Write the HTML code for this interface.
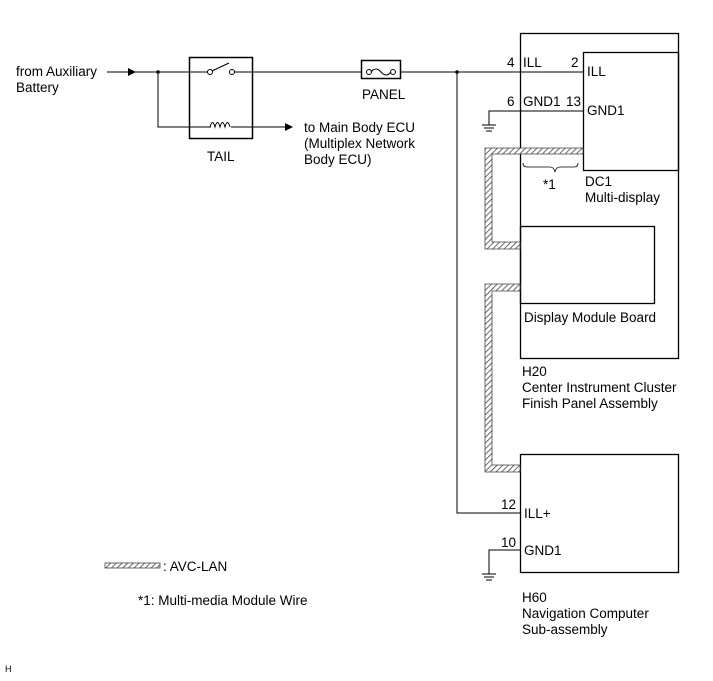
<!DOCTYPE html>
<html><head><meta charset="utf-8"><style>
body{margin:0;background:#fff}
svg{display:block}
text{font-family:"Liberation Sans",sans-serif;font-size:13.5px;fill:#000}
</style></head><body>
<svg width="713" height="681" viewBox="0 0 713 681">
<defs>
<pattern id="h" width="4" height="4" patternUnits="userSpaceOnUse" patternTransform="rotate(45)">
<rect width="4" height="4" fill="#fff"/><line x1="0" y1="0" x2="0" y2="4" stroke="#444" stroke-width="1.6"/>
</pattern>
</defs>
<g fill="none" stroke="#000" stroke-width="1">
<line x1="107" y1="72" x2="208" y2="72"/>
<line x1="234" y1="72" x2="361" y2="72"/>
<line x1="400" y1="72" x2="583" y2="72"/>
<polyline points="158,72 158,127 211,127"/>
<line x1="231" y1="127" x2="285" y2="127"/>
<rect x="189.5" y="57.5" width="63" height="81" stroke-width="1.5"/>
<circle cx="210" cy="72" r="2.5"/><circle cx="232" cy="72" r="2.5"/>
<line x1="212" y1="71" x2="229" y2="63"/>
<path d="M210 127 q2.5 -9 5 0 q2.5 -9 5 0 q2.5 -9 5 0 q2.5 -9 5 0"/>
<rect x="361.5" y="60.5" width="39" height="18" stroke-width="1.5"/>
<circle cx="369" cy="72" r="2.5"/><circle cx="393" cy="72" r="2.5"/>
<path d="M371 72 q5 -6 10 0 q5 6 10 0"/>
<rect x="520.5" y="33.5" width="158" height="325" stroke-width="1.3"/>
<rect x="583.5" y="52.5" width="95" height="118" stroke-width="1.3"/>
<rect x="520.5" y="226.5" width="134" height="77" stroke-width="1.3"/>
<rect x="520.5" y="454.5" width="158" height="118" stroke-width="1.3"/>
<polyline points="457,72 457,513 520,513"/>
<polyline points="583,111 489,111 489,125"/>
<line x1="482" y1="125" x2="496" y2="125"/><line x1="484" y1="128" x2="494" y2="128"/><line x1="486" y1="131" x2="492" y2="131"/>
<polyline points="520,550 489,550 489,574"/>
<line x1="482" y1="574" x2="496" y2="574"/><line x1="484" y1="577" x2="494" y2="577"/><line x1="486" y1="580" x2="492" y2="580"/>
<path d="M523 163 q0 4 4 4 h23 q4 0 5 5 q1 -5 5 -5 h14 q4 0 4 -4" stroke-width="0.8"/>
</g>
<polygon points="128,68 136,72 128,76" fill="#000"/>
<polygon points="285,123 293,127 285,131" fill="#000"/>
<circle cx="158" cy="72" r="1.8" fill="#000"/>
<circle cx="457" cy="72" r="1.8" fill="#000"/>
<g fill="url(#h)" stroke="#444" stroke-width="0.8">
<path d="M485 148 H583 V154 H492 V242 H520 V249 H485 Z"/>
<path d="M485 284 H520 V291 H492 V465 H520 V472 H485 Z"/>
<rect x="105" y="563" width="55" height="5"/>
</g>
<text x="16" y="76">from Auxiliary</text>
<text x="16" y="92">Battery</text>
<text x="207" y="161">TAIL</text>
<text x="362" y="99">PANEL</text>
<text x="304" y="132">to Main Body ECU</text>
<text x="304" y="148">(Multiplex Network</text>
<text x="304" y="164">Body ECU)</text>
<text x="507" y="67">4</text><text x="523" y="67">ILL</text>
<text x="571" y="67">2</text><text x="587" y="76">ILL</text>
<text x="507" y="106">6</text><text x="523" y="106">GND1</text>
<text x="566" y="106">13</text><text x="587" y="115">GND1</text>
<text x="543" y="189">*1</text>
<text x="585" y="186">DC1</text>
<text x="585" y="202">Multi-display</text>
<text x="524" y="322">Display Module Board</text>
<text x="522" y="376">H20</text>
<text x="522" y="392">Center Instrument Cluster</text>
<text x="522" y="408">Finish Panel Assembly</text>
<text x="501" y="509">12</text><text x="524" y="518">ILL+</text>
<text x="501" y="547">10</text><text x="524" y="555">GND1</text>
<text x="522" y="602">H60</text>
<text x="522" y="618">Navigation Computer</text>
<text x="522" y="634">Sub-assembly</text>
<text x="163" y="571">: AVC-LAN</text>
<text x="138" y="605">*1: Multi-media Module Wire</text>
<text x="5" y="672" style="font-size:9px">H</text>
</svg>
</body></html>
